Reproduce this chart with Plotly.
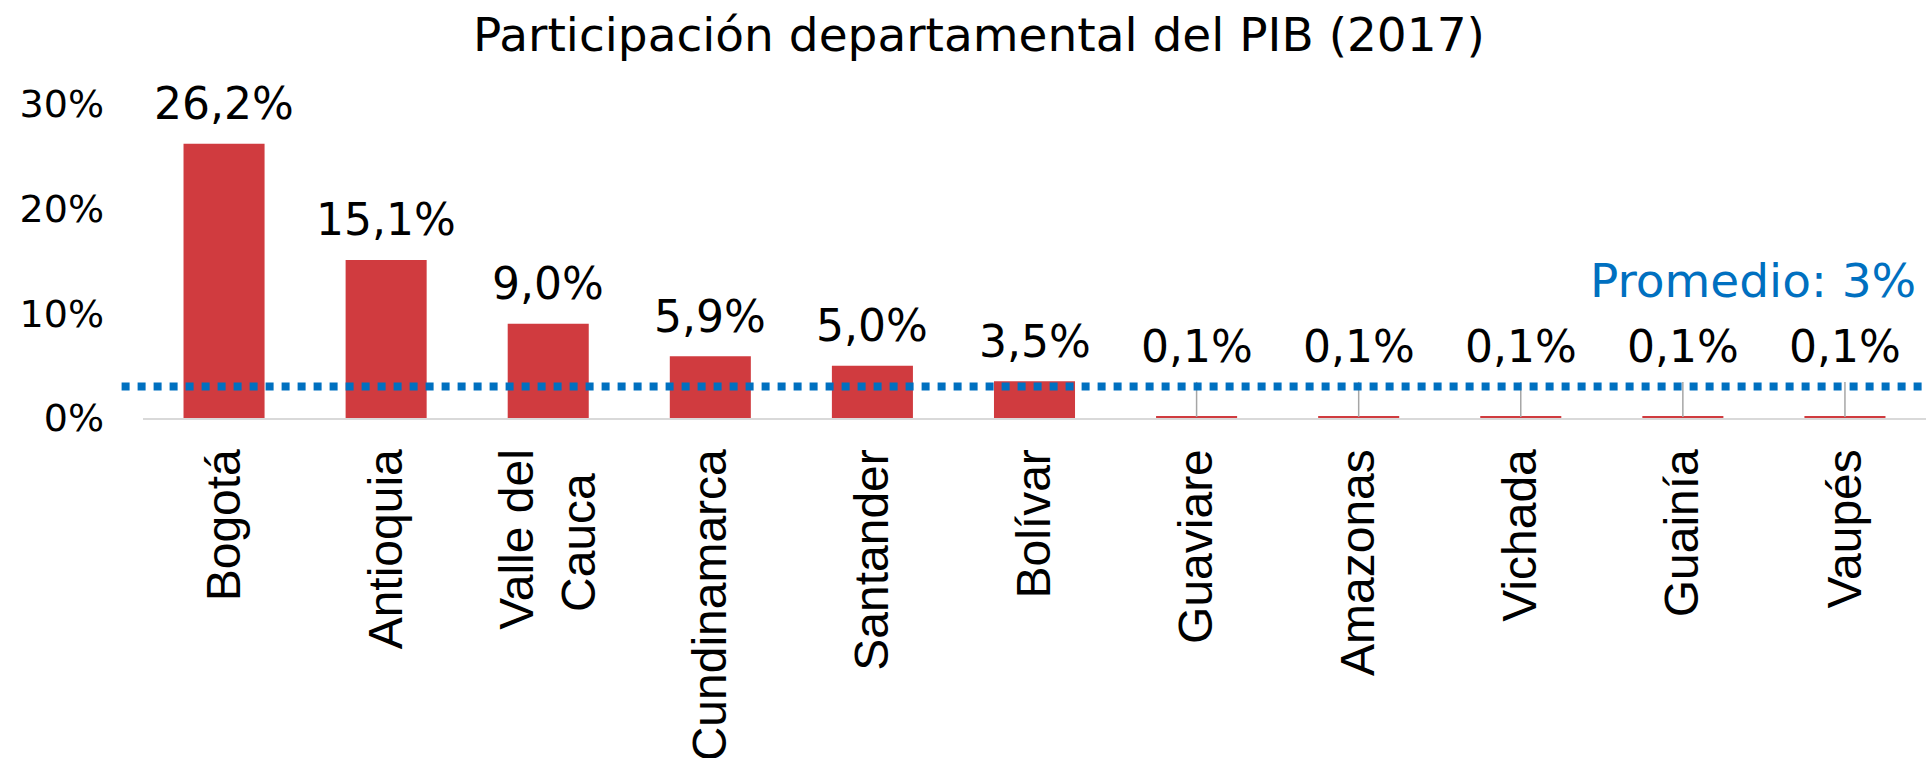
import plotly.graph_objects as go

# ---- data ----
categories = ["Bogotá", "Antioquia", "Valle del<br>Cauca", "Cundinamarca", "Santander",
              "Bolívar", "Guaviare", "Amazonas", "Vichada", "Guainía", "Vaupés"]
values = [26.2, 15.1, 9.0, 5.9, 5.0, 3.5, 0.1, 0.1, 0.1, 0.1, 0.1]
average = 3.0
average_label = "Promedio: 3%"
title_text = "Participación departamental del PIB (2017)"
y_ticks = [0, 10, 20, 30]

# ---- styles ----
RED = "#D03B3F"
BLUE = "#0070C0"
MAIN_FONT = "DejaVu Sans"
TICK_FONT = "Liberation Sans"

W, H = 1926, 758

# display text for x ticks: centre the second line of two-line labels
def display_label(c):
    parts = c.split("<br>")
    if len(parts) == 2:
        return (parts[0] + "<br>" + parts[1]
                + "<span style='color:rgba(0,0,0,0)'>x</span>")
    return c

fig = go.Figure()
fig.add_trace(go.Bar(
    x=categories, y=values,
    marker=dict(color=RED, line=dict(width=0)),
    hoverinfo="skip",
))

annotations = []
shapes = []
for cat, v in zip(categories, values):
    label = f"{v:.1f}".replace(".", ",") + "%"
    anchor_y = max(v, average)
    annotations.append(dict(
        x=cat, y=anchor_y, xref="x", yref="y", text=label, showarrow=False,
        yanchor="middle", yshift=40,
        font=dict(family=MAIN_FONT, size=44, color="#000000"),
    ))
    if v < average:
        shapes.append(dict(
            type="line", xref="x", yref="y", x0=cat, x1=cat, y0=v, y1=average + 0.45,
            line=dict(color="#A6A6A6", width=1.5), layer="above",
        ))

# average dotted line
shapes.append(dict(
    type="line", xref="paper", yref="y", x0=-0.012, x1=1, y0=average, y1=average,
    line=dict(color=BLUE, width=8, dash="dot"), layer="above",
))

annotations.append(dict(
    x=1, y=average, xref="paper", yref="y", text=average_label, showarrow=False,
    xanchor="right", yanchor="middle", xshift=-8, yshift=106,
    font=dict(family=MAIN_FONT, size=47, color=BLUE),
))

fig.update_layout(
    width=W, height=H,
    margin=dict(l=143, r=0, t=104, b=340, pad=0),
    paper_bgcolor="white", plot_bgcolor="white",
    bargap=0.5,
    showlegend=False,
    title=dict(
        text=title_text, xref="container", yref="container",
        x=979 / W, y=1 - 35 / H, xanchor="center", yanchor="middle",
        font=dict(family=MAIN_FONT, size=47, color="#000000"),
    ),
    xaxis=dict(
        type="category", range=[-0.5, len(categories) - 0.5],
        tickmode="array", tickvals=categories,
        ticktext=[display_label(c) for c in categories],
        showline=True, linecolor="#D9D9D9", linewidth=2,
        showgrid=False, zeroline=False, ticks="",
        tickangle=-90, ticklabelstandoff=10,
        tickfont=dict(family=TICK_FONT, size=48, color="#000000"),
        automargin=False,
    ),
    yaxis=dict(
        range=[0, 30], tickmode="array", tickvals=y_ticks,
        ticktext=[f"{t}%" for t in y_ticks],
        showline=False, showgrid=False, zeroline=False, ticks="",
        ticklabelstandoff=38,
        tickfont=dict(family=MAIN_FONT, size=38, color="#000000"),
        automargin=False,
    ),
    annotations=annotations,
    shapes=shapes,
)

fig.write_html(
    "out.html",
    config={"displayModeBar": False},
    post_script="document.body.style.margin='0';document.body.style.overflow='hidden';",
)
